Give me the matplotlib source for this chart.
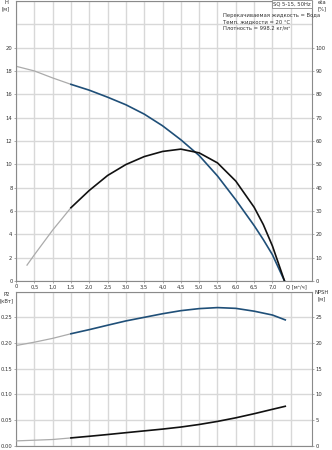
import matplotlib
matplotlib.use("Agg")
import matplotlib.pyplot as plt

# ---- data ----
q_h = [0, 0.5, 1.0, 1.5, 2.0, 2.5, 3.0, 3.5, 4.0, 4.5, 5.0, 5.5, 6.0, 6.5, 6.75, 7.0, 7.33]
h_vals = [18.4, 18.0, 17.4, 16.85, 16.35, 15.75, 15.1, 14.3, 13.3, 12.1, 10.75, 9.0, 6.95, 4.75, 3.55, 2.25, 0]

q_eta = [0.3, 0.5, 1.0, 1.5, 2.0, 2.5, 3.0, 3.5, 4.0, 4.5, 5.0, 5.5, 6.0, 6.5, 6.75, 7.0, 7.33]
eta_vals = [6.8, 11.2, 21.8, 31.4, 38.8, 45.2, 49.9, 53.3, 55.5, 56.5, 54.9, 50.6, 42.8, 31.6, 24.2, 15.0, 0]

q_p = [0, 0.5, 1.0, 1.5, 2.0, 2.5, 3.0, 3.5, 4.0, 4.5, 5.0, 5.5, 6.0, 6.5, 7.0, 7.35]
p2_vals = [0.195, 0.2015, 0.209, 0.218, 0.226, 0.2346, 0.243, 0.250, 0.257, 0.263, 0.267, 0.269, 0.2675, 0.262, 0.2545, 0.245]
npsh_vals = [0.9, 1.03, 1.17, 1.48, 1.8, 2.14, 2.5, 2.85, 3.2, 3.6, 4.1, 4.7, 5.4, 6.2, 7.06, 7.65]

x_ticks = [0, 0.5, 1.0, 1.5, 2.0, 2.5, 3.0, 3.5, 4.0, 4.5, 5.0, 5.5, 6.0, 6.5, 7.0]
x_grid = x_ticks + [7.5]
h_ticks = list(range(0, 21, 2))
h_grid = list(range(0, 25, 2))
eta_ticks = list(range(0, 101, 10))
p2_ticks = [0.00, 0.05, 0.10, 0.15, 0.20, 0.25]
npsh_ticks = [0, 5, 10, 15, 20, 25]

split_q = 1.5
info_lines = ["Перекачиваемая жидкость = Вода", "Темп. жидкости = 20 °C", "Плотность = 998.2 кг/м³"]
title_box = "SQ 5-15, 50Hz"

BLUE = "#1f4f78"
GRAY = "#ababab"
GRID = "#d8d8d8"
SPINE = "#8a8a8a"
TXT = "#333333"
FS = 3.8

plt.rcParams['font.family'] = ['DejaVu Sans']

fig = plt.figure(figsize=(3.32, 4.50), dpi=100)
L, R = 16 / 332, 312 / 332
ax1 = fig.add_axes([L, 1 - 281 / 450, R - L, 281 / 450 - 0.002])
ax2 = fig.add_axes([L, 1 - 445.5 / 450, R - L, (445.5 - 291.7) / 450])

XMAX = 8.08


def split(xs, ys, s):
    a = [(x, y) for x, y in zip(xs, ys) if x <= s]
    b = [(x, y) for x, y in zip(xs, ys) if x >= s]
    return list(zip(*a)), list(zip(*b))


def style(ax, ylim, ygrid):
    ax.set_xlim(0, XMAX)
    ax.set_ylim(*ylim)
    for x in x_grid:
        ax.axvline(x, color=GRID, lw=1.0, zorder=0)
    for y in ygrid:
        ax.axhline(y, color=GRID, lw=1.0, zorder=0)
    for s in ax.spines.values():
        s.set_color(SPINE)
        s.set_linewidth(0.8)
    ax.tick_params(axis='both', labelsize=FS, colors=SPINE, labelcolor=TXT,
                   length=1.5, width=0.5, pad=1)


# --- top panel ---
style(ax1, (0, 24), h_grid)
ax1.set_yticks(h_ticks)
ax1.set_xticks(x_ticks)
ax1.set_xticklabels([("%.1f" % v).replace(".", ",") if v != 0 else "0" for v in x_ticks])
(a, b) = split(q_h, h_vals, split_q)
ax1.plot(a[0], a[1], color=GRAY, lw=0.9, solid_joinstyle='round')
ax1.plot(b[0], b[1], color=BLUE, lw=1.2, solid_joinstyle='round')

ax1r = ax1.twinx()
ax1r.set_ylim(0, 120)
ax1r.set_yticks(eta_ticks)
for s in ax1r.spines.values():
    s.set_visible(False)
ax1r.tick_params(axis='y', labelsize=FS, colors=SPINE, labelcolor=TXT, length=1.5, width=0.5, pad=1)
(a, b) = split(q_eta, eta_vals, split_q)
ax1r.plot(a[0], a[1], color=GRAY, lw=0.9, solid_joinstyle='round')
ax1r.plot(b[0], b[1], color="#111111", lw=1.2, solid_joinstyle='round')

fig.text(6 / 332, 1 - 3 / 450, "H", fontsize=FS, color=TXT, ha='center', va='center')
fig.text(6 / 332, 1 - 9 / 450, "[м]", fontsize=FS, color=TXT, ha='center', va='center')
fig.text(322 / 332, 1 - 3 / 450, "eta", fontsize=FS, color=TXT, ha='center', va='center')
fig.text(322 / 332, 1 - 9 / 450, "[%]", fontsize=FS, color=TXT, ha='center', va='center')
fig.text(296 / 332, 1 - 287 / 450, "Q [м³/ч]", fontsize=FS, color=TXT, ha='center', va='center')

ax1.text(0.995, 0.997, title_box, transform=ax1.transAxes, fontsize=FS, color=TXT,
         ha='right', va='top',
         bbox=dict(boxstyle='square,pad=0.25', fc='white', ec=SPINE, lw=0.6))
for i, line in enumerate(info_lines):
    ax1.text((222.7 - 16) / 296, 1 - (15 + 6 * i) / 281, line, transform=ax1.transAxes,
             fontsize=FS, color=TXT, ha='left', va='center')

# --- bottom panel ---
style(ax2, (0, 0.30), p2_ticks + [0.30])
ax2.set_yticks(p2_ticks)
ax2.set_yticklabels(["%.2f" % v for v in p2_ticks])
ax2.set_xticks(x_ticks)
ax2.tick_params(axis='x', labelbottom=False, length=0)
(a, b) = split(q_p, p2_vals, split_q)
ax2.plot(a[0], a[1], color=GRAY, lw=0.9, solid_joinstyle='round')
ax2.plot(b[0], b[1], color=BLUE, lw=1.2, solid_joinstyle='round')

ax2r = ax2.twinx()
ax2r.set_ylim(0, 30)
ax2r.set_yticks(npsh_ticks)
for s in ax2r.spines.values():
    s.set_visible(False)
ax2r.tick_params(axis='y', labelsize=FS, colors=SPINE, labelcolor=TXT, length=1.5, width=0.5, pad=1)
(a, b) = split(q_p, npsh_vals, split_q)
ax2r.plot(a[0], a[1], color=GRAY, lw=0.9, solid_joinstyle='round')
ax2r.plot(b[0], b[1], color="#111111", lw=1.2, solid_joinstyle='round')

fig.text(7 / 332, 1 - 295 / 450, "P2", fontsize=FS, color=TXT, ha='center', va='center')
fig.text(7 / 332, 1 - 301 / 450, "[кВт]", fontsize=FS, color=TXT, ha='center', va='center')
fig.text(322 / 332, 1 - 293 / 450, "NPSH", fontsize=FS, color=TXT, ha='center', va='center')
fig.text(322 / 332, 1 - 299 / 450, "[м]", fontsize=FS, color=TXT, ha='center', va='center')

fig.savefig("out.png", dpi=100)
